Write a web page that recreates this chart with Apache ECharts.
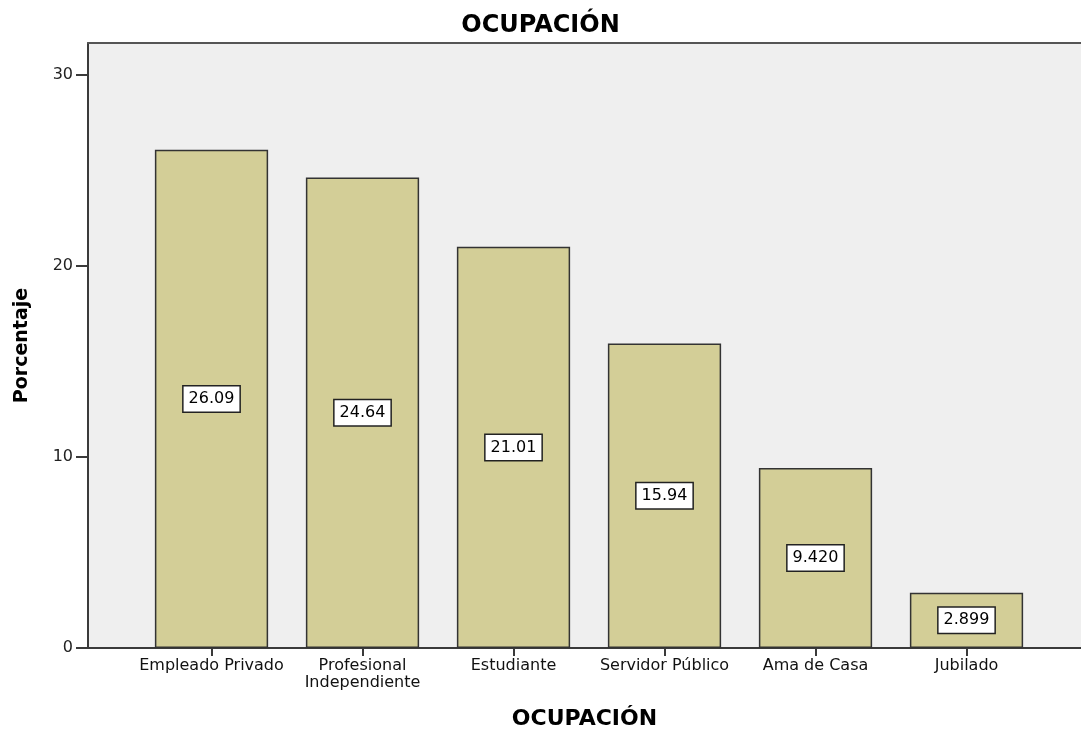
<!DOCTYPE html>
<html>
<head>
<meta charset="utf-8">
<script src="https://cdn.jsdelivr.net/npm/echarts@6/dist/echarts.min.js"></script>
<style>
  html, body { margin: 0; padding: 0; background: #fff; }
  #chart { width: 1081px; height: 731px; }
</style>
</head>
<body>
<div id="chart"></div>
<script>
// datos
var categorias = ["Empleado Privado", "Profesional\nIndependiente", "Estudiante", "Servidor Público", "Ama de Casa", "Jubilado"];
var porcentajes = [26.09, 24.64, 21.01, 15.94, 9.42, 2.899];
var yTicks = [0, 10, 20, 30];

var yMax = 31.68;
var font = "'DejaVu Sans', sans-serif";

var chart = echarts.init(document.getElementById("chart"));
chart.setOption({
  animation: false,
  title: {
    text: "OCUPACIÓN",
    left: "center",
    top: 9,
    textStyle: { fontFamily: font, fontSize: 24, fontWeight: "bold", color: "#000" }
  },
  grid: [
    // marco / fondo gris
    { left: 88, right: 0, top: 43, bottom: 83, show: true, backgroundColor: "#efefef", borderWidth: 0, outerBoundsMode: "none", containLabel: false },
    // zona de barras
    { left: 136, right: 39, top: 43, bottom: 83, outerBoundsMode: "none", containLabel: false }
  ],
  xAxis: [
    {
      gridIndex: 0, type: "value", min: 0, max: 1,
      name: "OCUPACIÓN", nameLocation: "middle", nameGap: 60,
      nameTextStyle: { fontFamily: font, fontSize: 22, fontWeight: "bold", color: "#000" },
      axisLine: { show: true, lineStyle: { color: "#3a3a3a", width: 2 } },
      axisTick: { show: false }, axisLabel: { show: false }, splitLine: { show: false }
    },
    {
      gridIndex: 0, type: "value", min: 0, max: 1, position: "top",
      axisLine: { show: true, lineStyle: { color: "#555", width: 2 } },
      axisTick: { show: false }, axisLabel: { show: false }, splitLine: { show: false }
    },
    {
      gridIndex: 1, type: "category", data: categorias,
      axisLine: { show: false },
      axisTick: { show: true, alignWithLabel: true, length: 8, lineStyle: { color: "#3a3a3a", width: 2 } },
      axisLabel: { fontFamily: font, fontSize: 16, color: "#111", margin: 9, lineHeight: 17, interval: 0 }
    }
  ],
  yAxis: [
    {
      gridIndex: 0, type: "value", min: 0, max: yMax, interval: 10,
      name: "Porcentaje", nameLocation: "middle", nameGap: 56, nameRotate: 90,
      nameTextStyle: { fontFamily: font, fontSize: 19, fontWeight: "bold", color: "#000" },
      axisLine: { show: true, lineStyle: { color: "#3a3a3a", width: 2 } },
      axisTick: { show: true, length: 12, customValues: yTicks, lineStyle: { color: "#3a3a3a", width: 2 } },
      axisLabel: {
        fontFamily: font, fontSize: 16, color: "#222", margin: 15,
        customValues: yTicks
      },
      splitLine: { show: false }
    },
    {
      gridIndex: 1, type: "value", min: 0, max: yMax, show: false
    }
  ],
  series: [
    {
      type: "bar",
      xAxisIndex: 2,
      yAxisIndex: 1,
      data: porcentajes,
      barWidth: "75%",
      itemStyle: { color: "#d3ce97", borderColor: "#333", borderWidth: 1.5 },
      label: {
        show: true,
        position: "inside",
        formatter: function (p) { return p.value.toPrecision(4); },
        fontFamily: font,
        fontSize: 16,
        color: "#000",
        backgroundColor: "#fff",
        borderColor: "#222",
        borderWidth: 1.5,
        padding: [5, 5, 4, 5]
      }
    }
  ]
});
</script>
</body>
</html>
